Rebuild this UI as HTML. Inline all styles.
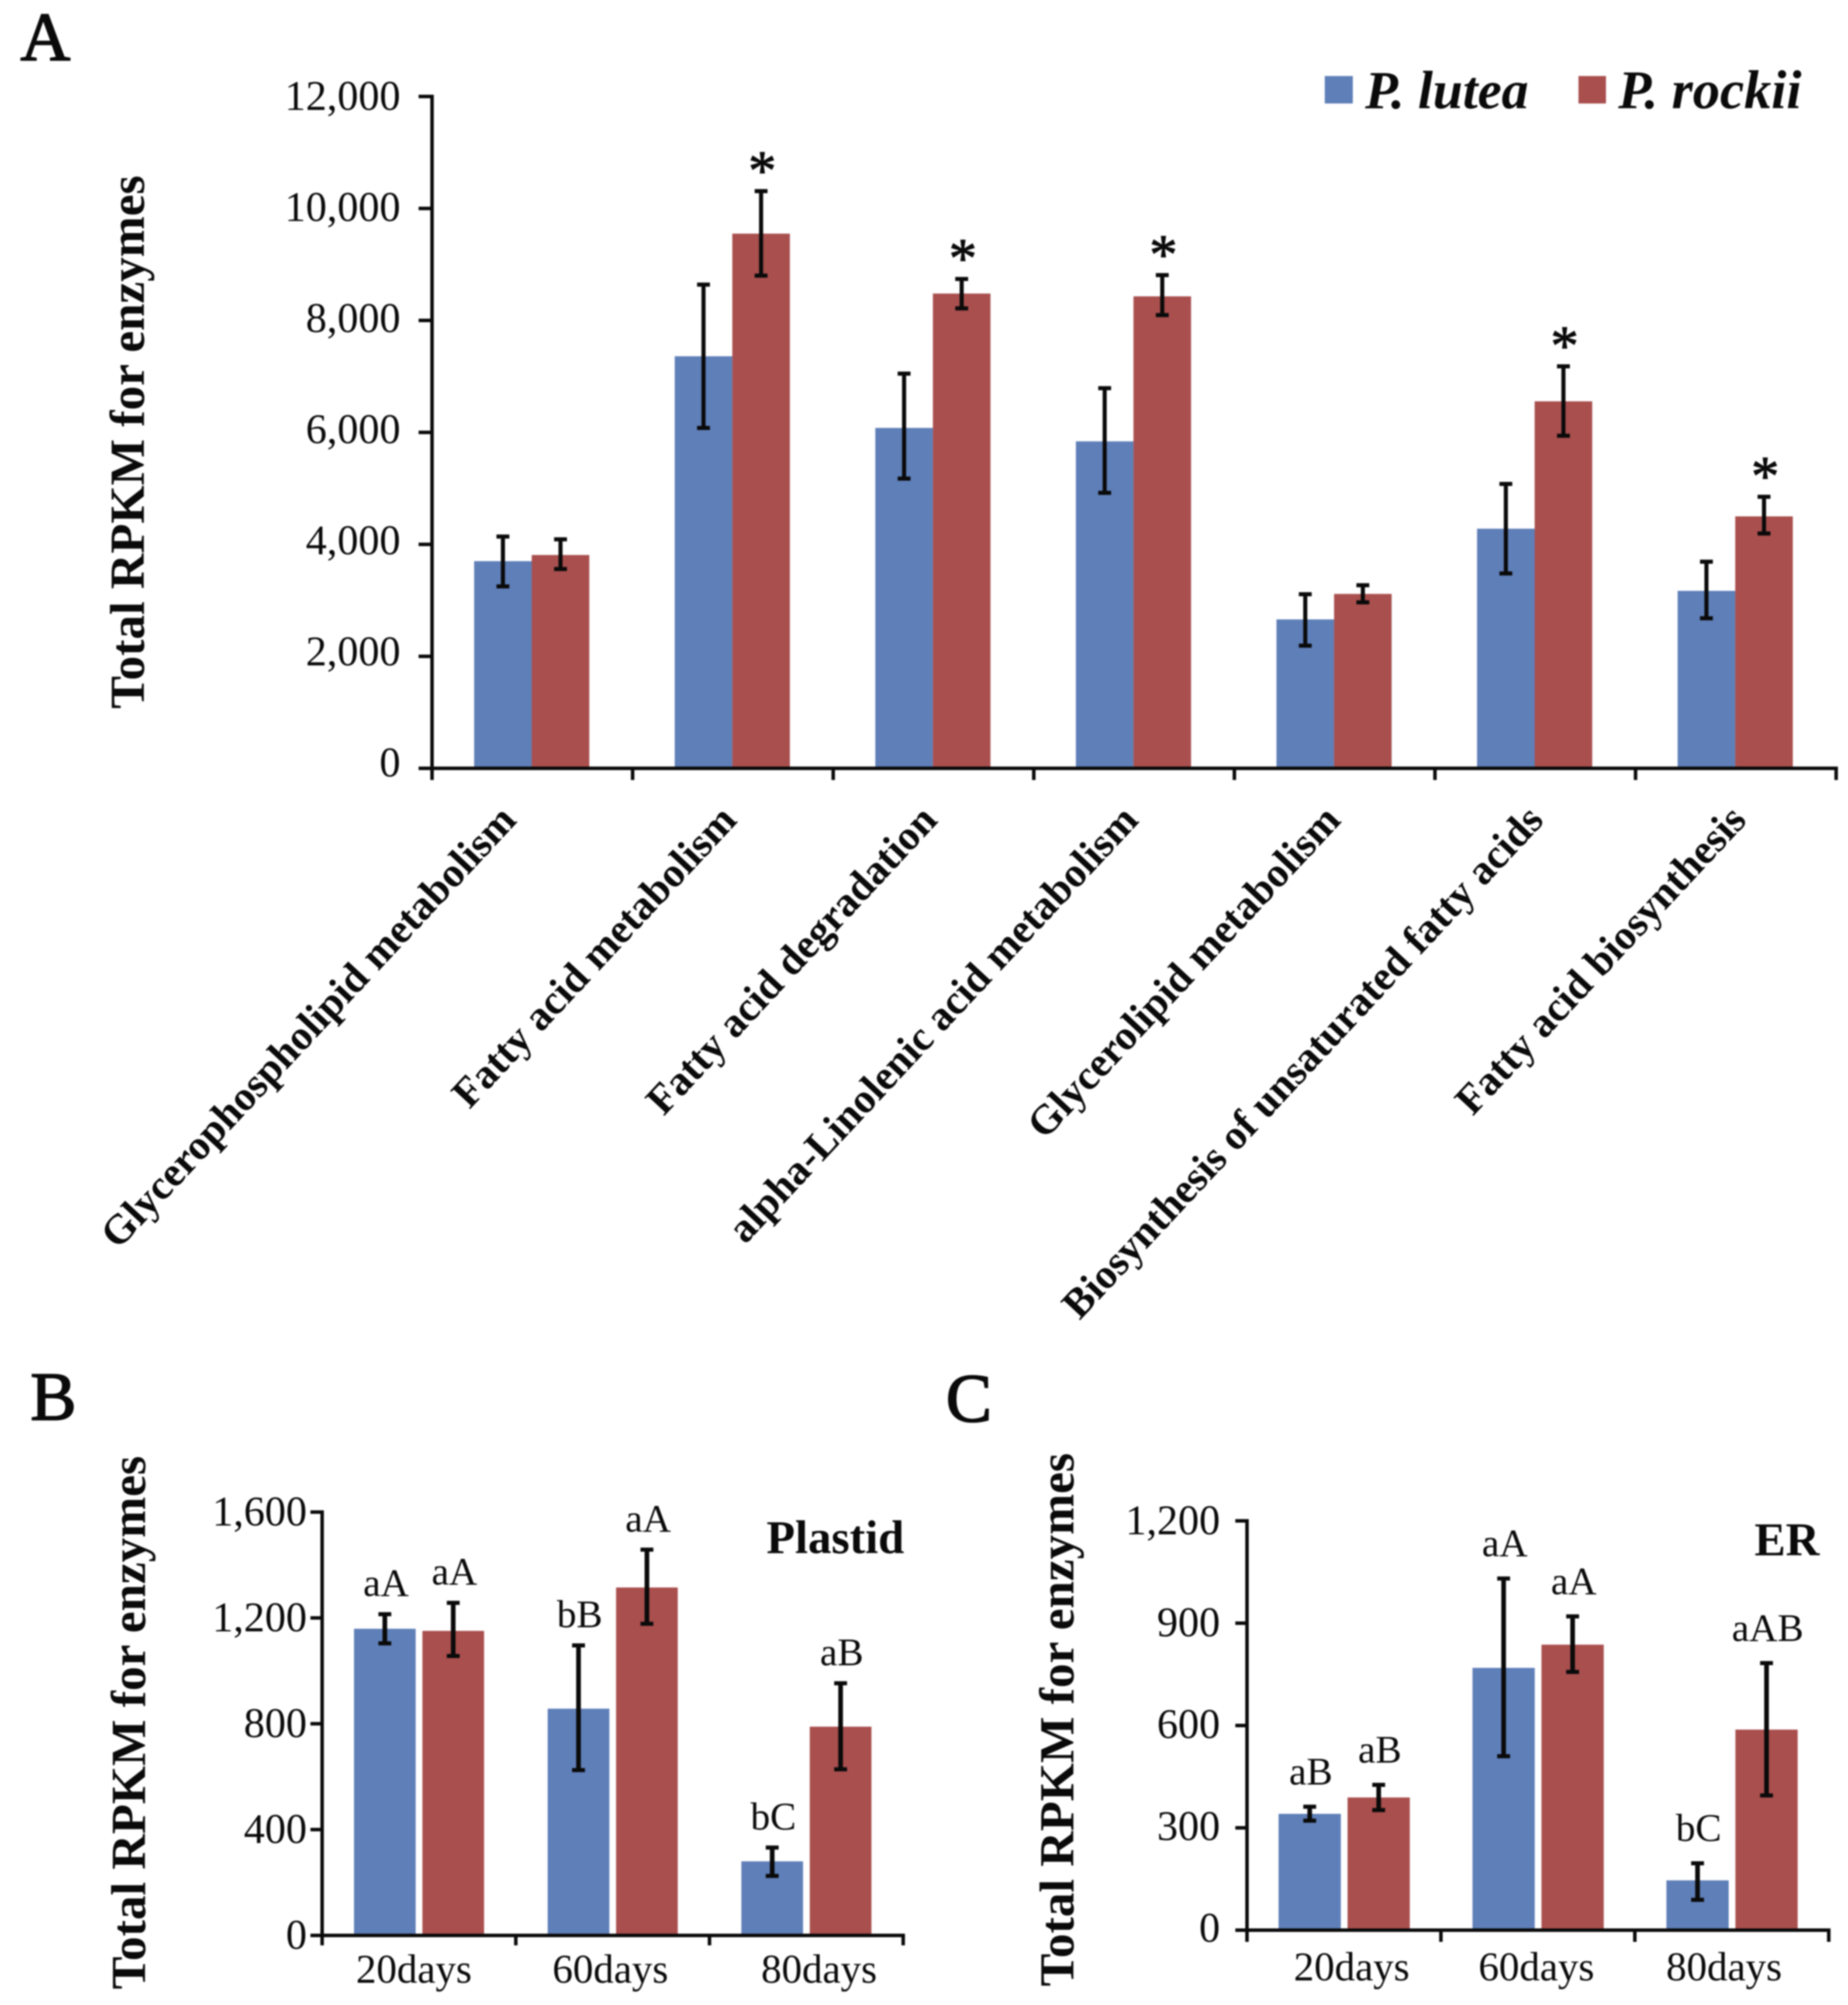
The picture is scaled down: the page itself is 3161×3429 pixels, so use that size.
<!DOCTYPE html>
<html lang="en">
<head>
<meta charset="utf-8">
<title>Total RPKM for enzymes</title>
<style>
html,body{margin:0;padding:0;background:#fff;width:3161px;height:3429px;overflow:hidden}
svg{display:block;filter:blur(1.2px)}
text{font-family:"Liberation Serif",serif;fill:#0a0a0a}
.b{font-weight:bold}
</style>
</head>
<body>
<svg id="figure" xmlns="http://www.w3.org/2000/svg" width="3161" height="3429" viewBox="0 0 3161 3429">
  <rect width="3161" height="3429" fill="#fff"/>

  <text x="35" y="103" font-size="118" stroke="#0a0a0a" stroke-width="2.5">A</text>
  <text x="52" y="2428" font-size="118" stroke="#0a0a0a" stroke-width="2.5">B</text>
  <text x="1618" y="2431" font-size="118" stroke="#0a0a0a" stroke-width="2.5">C</text>

  <text class="b" font-size="84" text-anchor="middle" transform="translate(246 756) rotate(-90)">Total RPKM for enzymes</text>
  <text class="b" font-size="84" text-anchor="middle" transform="translate(248 2946) rotate(-90)">Total RPKM for enzymes</text>
  <text class="b" font-size="84" text-anchor="middle" transform="translate(1836 2941) rotate(-90)">Total RPKM for enzymes</text>

  <g>
    <rect x="2266" y="130" width="48" height="47" fill="#5f7fb8"/>
    <text x="2335" y="185" font-size="92" font-weight="bold" font-style="italic">P. lutea</text>
    <rect x="2700" y="130" width="47" height="47" fill="#a94f4e"/>
    <text x="2768" y="185" font-size="93" font-weight="bold" font-style="italic">P. rockii</text>
  </g>

  <g class="b" font-size="71" text-anchor="end">
    <text class="b" transform="translate(886 1405) rotate(-47)">Glycerophospholipid metabolism</text>
    <text class="b" transform="translate(1263 1405) rotate(-47)">Fatty acid metabolism</text>
    <text class="b" transform="translate(1606 1405) rotate(-47)">Fatty acid degradation</text>
    <text class="b" transform="translate(1950 1405) rotate(-47)">alpha-Linolenic acid metabolism</text>
    <text class="b" transform="translate(2296 1405) rotate(-47)">Glycerolipid metabolism</text>
    <text class="b" transform="translate(2643 1405) rotate(-47)">Biosynthesis of unsaturated fatty acids</text>
    <text class="b" transform="translate(2990 1405) rotate(-47)">Fatty acid biosynthesis</text>
  </g>

  <text class="b" x="1311" y="2656" font-size="80">Plastid</text>
  <text class="b" x="3001" y="2660" font-size="80">ER</text>

  <text x="708" y="3391" font-size="70" text-anchor="middle">20days</text>
  <text x="1044" y="3391" font-size="70" text-anchor="middle">60days</text>
  <text x="1401" y="3391" font-size="70" text-anchor="middle">80days</text>
  <text x="2312" y="3387" font-size="70" text-anchor="middle">20days</text>
  <text x="2628" y="3387" font-size="70" text-anchor="middle">60days</text>
  <text x="2949" y="3387" font-size="70" text-anchor="middle">80days</text>

  <g id="panel-a"></g>
  <g id="panel-b"></g>
  <g id="panel-c"></g>
</svg>

<script>
// Panel A data
const aLutea = [3700, 7360, 6080, 5840, 2660, 4280, 3170];
const aLuteaHigh = [4140, 8640, 7050, 6790, 3110, 5080, 3690];
const aLuteaLow = [3250, 6080, 5175, 4920, 2190, 3480, 2680];
const aRockii = [3810, 9550, 8480, 8430, 3115, 6555, 4500];
const aRockiiHigh = [4090, 10310, 8740, 8810, 3270, 7180, 4850];
const aRockiiLow = [3560, 8800, 8215, 8095, 2965, 5940, 4195];
const aStars = ['', '*', '*', '*', '', '*', '*'];
const aTicks = [0, 2000, 4000, 6000, 8000, 10000, 12000];

// Panel B data
const bLutea = [1159, 857, 280];
const bLuteaHigh = [1214, 1096, 332];
const bLuteaLow = [1104, 625, 225];
const bRockii = [1151, 1315, 789];
const bRockiiHigh = [1257, 1458, 953];
const bRockiiLow = [1056, 1178, 628];
const bLuteaLetters = ['aA', 'bB', 'bC'];
const bRockiiLetters = ['aA', 'aA', 'aB'];
const bTicks = [0, 400, 800, 1200, 1600];

// Panel C data
const cLutea = [341, 769, 146];
const cLuteaHigh = [362, 1031, 196];
const cLuteaLow = [321, 510, 89];
const cRockii = [389, 837, 588];
const cRockiiHigh = [426, 920, 783];
const cRockiiLow = [352, 757, 395];
const cLuteaLetters = ['aB', 'aA', 'bC'];
const cRockiiLetters = ['aB', 'aA', 'aAB'];
const cTicks = [0, 300, 600, 900, 1200];

const NS = 'http://www.w3.org/2000/svg';
const BLUE = '#5f7fb8';
const RED = '#a94f4e';
const INK = '#0a0a0a';

function mk(parent, tag) {
  const el = document.createElementNS(NS, tag);
  parent.appendChild(el);
  return el;
}

function line(parent, x1, y1, x2, y2, w) {
  const el = mk(parent, 'line');
  el.setAttribute('x1', x1);
  el.setAttribute('y1', y1);
  el.setAttribute('x2', x2);
  el.setAttribute('y2', y2);
  el.setAttribute('stroke', INK);
  el.setAttribute('stroke-width', w);
  return el;
}

function drawSeries(g, p, seriesName, values, highs, lows, offset, color) {
  values.forEach(function (v, i) {
    const x = p.x0 + p.band * i + offset;
    const bar = mk(g, 'rect');
    
    
    bar.setAttribute('x', x);
    bar.setAttribute('y', p.y(v));
    bar.setAttribute('width', p.barW);
    bar.setAttribute('height', p.y(0) - p.y(v));
    bar.setAttribute('fill', color);
  });
  values.forEach(function (v, i) {
    const cx = p.x0 + p.band * i + offset + p.barW / 2;
    const err = mk(g, 'g');
    
    
    line(err, cx, p.y(highs[i]), cx, p.y(lows[i]), p.errW);
    line(err, cx - 11, p.y(highs[i]), cx + 11, p.y(highs[i]), 7);
    line(err, cx - 11, p.y(lows[i]), cx + 11, p.y(lows[i]), 7);
  });
}

function drawAxes(g, p, ticks, groups) {
  ticks.forEach(function (t) {
    const tick = line(g, p.x0 - p.tickL, p.y(t), p.x0, p.y(t), 6);
    
    
    const label = mk(g, 'text');
    
    
    label.setAttribute('x', p.labelRight);
    label.setAttribute('y', p.y(t) + 23 - p.drift * (1 - t / p.max));
    label.setAttribute('font-size', 72);
    label.setAttribute('text-anchor', 'end');
    label.textContent = t.toLocaleString('en-US');
  });
  for (let i = 0; i <= groups; i++) {
    const x = p.x0 + p.band * i;
    const tick = line(g, x, p.y(0), x, p.y(0) + p.tickD, 6);
    
    
  }
  const yAxis = line(g, p.x0, p.y(p.max) - 3, p.x0, p.y(0) + 3, 6);
  
  
  const xAxis = line(g, p.x0 - p.tickL, p.y(0), p.x0 + p.band * groups + 3, p.y(0), 6);
  
  
}

function drawLetters(g, p, letters, highs, offset, seriesName) {
  letters.forEach(function (s, i) {
    const t = mk(g, 'text');
    
    
    t.setAttribute('x', p.x0 + p.band * i + offset + p.barW / 2 + 2);
    t.setAttribute('y', p.y(highs[i]) - p.letterGap);
    t.setAttribute('font-size', 67);
    t.setAttribute('text-anchor', 'middle');
    t.textContent = s;
  });
}

function scale(top, bottom, max) {
  return function (v) { return bottom - (v / max) * (bottom - top); };
}

// Panel A
const pA = { x0: 739, band: 343.1, barW: 98.5, errW: 7, tickL: 23, tickD: 20, labelRight: 685, drift: 9, max: 12000, y: scale(165, 1314, 12000) };
const gA = document.getElementById('panel-a');
drawSeries(gA, pA, 'p-lutea', aLutea, aLuteaHigh, aLuteaLow, 72, BLUE);
drawSeries(gA, pA, 'p-rockii', aRockii, aRockiiHigh, aRockiiLow, 170.5, RED);
drawAxes(gA, pA, aTicks, aLutea.length);
aStars.forEach(function (s, i) {
  if (!s) return;
  const star = mk(gA, 'text');
  
  
  star.setAttribute('x', pA.x0 + pA.band * i + 172.5 + pA.barW / 2);
  star.setAttribute('y', pA.y(aRockiiHigh[i]) - 3);
  star.setAttribute('font-size', 96);
  star.setAttribute('stroke', '#0a0a0a');
  star.setAttribute('stroke-width', 1.5);
  star.setAttribute('text-anchor', 'middle');
  star.textContent = s;
});

// Panel B
const pB = { x0: 551, band: 331.3, barW: 105.5, errW: 8, tickL: 20, tickD: 17, labelRight: 525, drift: 0, letterGap: 31, max: 1600, y: scale(2586, 3310, 1600) };
const gB = document.getElementById('panel-b');
drawSeries(gB, pB, 'plastid-p-lutea', bLutea, bLuteaHigh, bLuteaLow, 54.5, BLUE);
drawSeries(gB, pB, 'plastid-p-rockii', bRockii, bRockiiHigh, bRockiiLow, 171.5, RED);
drawAxes(gB, pB, bTicks, bLutea.length);
drawLetters(gB, pB, bLuteaLetters, bLuteaHigh, 54.5, 'plastid-p-lutea');
drawLetters(gB, pB, bRockiiLetters, bRockiiHigh, 171.5, 'plastid-p-rockii');

// Panel C
const pC = { x0: 2133, band: 331.7, barW: 106.5, errW: 8, tickL: 20, tickD: 20, labelRight: 2087, drift: 3, letterGap: 38, max: 1200, y: scale(2601, 3301, 1200) };
const gC = document.getElementById('panel-c');
drawSeries(gC, pC, 'er-p-lutea', cLutea, cLuteaHigh, cLuteaLow, 54, BLUE);
drawSeries(gC, pC, 'er-p-rockii', cRockii, cRockiiHigh, cRockiiLow, 172, RED);
drawAxes(gC, pC, cTicks, cLutea.length);
drawLetters(gC, pC, cLuteaLetters, cLuteaHigh, 54, 'er-p-lutea');
drawLetters(gC, pC, cRockiiLetters, cRockiiHigh, 172, 'er-p-rockii');
</script>
</body>
</html>
